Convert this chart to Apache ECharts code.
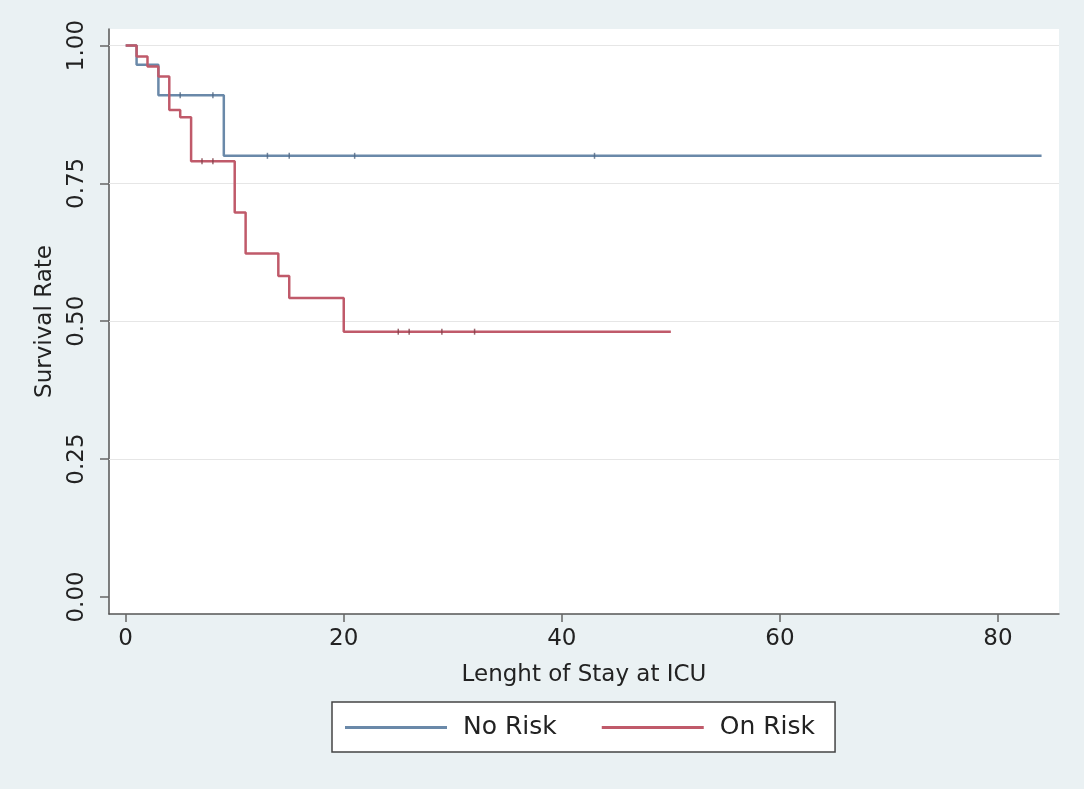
<!DOCTYPE html>
<html>
<head>
<meta charset="utf-8">
<script src="https://cdn.jsdelivr.net/npm/echarts@6/dist/echarts.min.js"></script>
<style>
  html, body { margin: 0; padding: 0; background: #eaf1f3; }
  #container { width: 1084px; height: 789px; }
</style>
</head>
<body>
<div id="container"></div>
<script>
// Kaplan-Meier steps: [time, survival after that time]
var noRiskSteps = [[0, 1.0], [1, 0.965], [3, 0.91], [9, 0.80], [84, 0.80]];
var onRiskSteps = [[0, 1.0], [1, 0.98], [2, 0.962], [3, 0.944], [4, 0.883], [5, 0.87],
    [6, 0.79], [10, 0.697], [11, 0.623], [14, 0.582], [15, 0.542], [20, 0.481], [50, 0.481]];

// censoring marks
var noRiskCensored = [[5, 0.91], [8, 0.91], [13, 0.80], [15, 0.80], [21, 0.80], [43, 0.80]];
var onRiskCensored = [[7, 0.79], [8, 0.79], [25, 0.481], [26, 0.481], [29, 0.481], [32, 0.481]];

var xTicks = [0, 20, 40, 60, 80];
var yTicks = [0, 0.25, 0.5, 0.75, 1];
var yGridLines = [0.25, 0.5, 0.75, 1];

var blue = '#6a89a9';
var red = '#c05a6a';
var font = 'DejaVu Sans';

var myChart = echarts.init(document.getElementById('container'));

var option = {
    backgroundColor: '#eaf1f3',
    animation: false,
    textStyle: { fontFamily: font, color: '#222' },
    grid: {
        left: 109, right: 25, top: 29, bottom: 175,
        show: true, backgroundColor: '#ffffff', borderWidth: 0
    },
    legend: {
        data: ['No Risk', 'On Risk'],
        left: 332, top: 702,
        orient: 'horizontal',
        icon: 'rect',
        padding: [13, 20, 12, 13],
        itemGap: 45,
        itemWidth: 102,
        itemHeight: 3,
        backgroundColor: '#ffffff',
        borderColor: '#444',
        borderWidth: 1.5,
        borderRadius: 0,
        textStyle: { fontFamily: font, fontSize: 25, color: '#222', padding: [0, 0, 0, 11] }
    },
    xAxis: {
        type: 'value',
        min: -1.53, max: 85.6,
        name: 'Lenght of Stay at ICU',
        nameLocation: 'middle',
        nameGap: 50,
        nameTextStyle: { fontFamily: font, fontSize: 23, color: '#222' },
        axisLine: { show: true, onZero: false, lineStyle: { color: '#555', width: 1.5 } },
        axisTick: { show: true, length: 8, customValues: xTicks, lineStyle: { color: '#666', width: 1.5 } },
        axisLabel: { customValues: xTicks, margin: 14, fontSize: 23, color: '#222', fontFamily: font },
        splitLine: { show: false }
    },
    yAxis: {
        type: 'value',
        min: -0.031, max: 1.03,
        name: 'Survival Rate',
        nameLocation: 'middle',
        nameRotate: 90,
        nameGap: 52,
        nameTextStyle: { fontFamily: font, fontSize: 23, color: '#222' },
        axisLine: { show: true, onZero: false, lineStyle: { color: '#555', width: 1.5 } },
        axisTick: { show: true, length: 9, customValues: yTicks, lineStyle: { color: '#666', width: 1.5 } },
        axisLabel: {
            customValues: yTicks, rotate: 90, margin: 20, fontSize: 23, color: '#222', fontFamily: font,
            formatter: function (v) { return v.toFixed(2); }
        },
        splitLine: { show: false }
    },
    series: [
        {
            name: 'No Risk',
            type: 'line',
            step: 'end',
            data: noRiskSteps,
            symbol: 'none',
            color: blue,
            lineStyle: { color: blue, width: 2.5 },
            z: 3,
            markLine: {
                silent: true,
                symbol: 'none',
                label: { show: false },
                lineStyle: { color: '#e6e6e6', width: 1, type: 'solid' },
                data: yGridLines.map(function (v) { return { yAxis: v }; }),
                z: 1
            }
        },
        {
            name: 'On Risk',
            type: 'line',
            step: 'end',
            data: onRiskSteps,
            symbol: 'none',
            color: red,
            lineStyle: { color: red, width: 2.5 },
            z: 4
        },
        {
            name: 'No Risk censored',
            type: 'scatter',
            data: noRiskCensored,
            symbol: 'rect',
            symbolSize: [1.5, 6],
            itemStyle: { color: '#4f6782' },
            z: 5
        },
        {
            name: 'On Risk censored',
            type: 'scatter',
            data: onRiskCensored,
            symbol: 'rect',
            symbolSize: [1.5, 6],
            itemStyle: { color: '#7e3e48' },
            z: 5
        }
    ]
};

myChart.setOption(option);
</script>
</body>
</html>
